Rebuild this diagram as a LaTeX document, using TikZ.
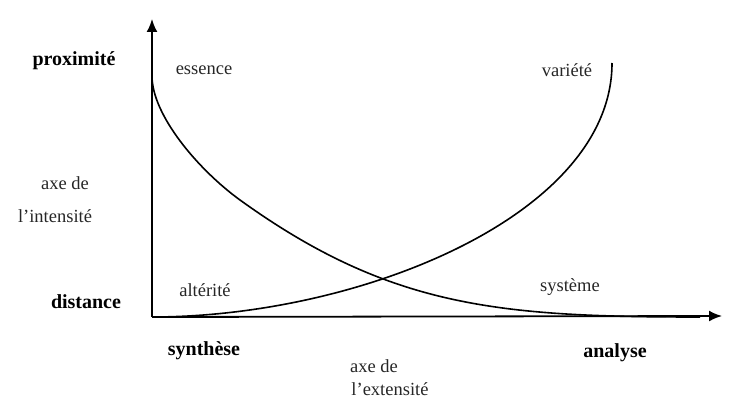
\documentclass[tikz,border=0pt]{standalone}
\usepackage{fontspec}
\setmainfont{Liberation Serif}
\usetikzlibrary{arrows.meta}

\begin{document}
\begin{tikzpicture}[x=1pt, y=-1pt,
    every node/.style={inner sep=0pt, font=\fontsize{18.5}{22}\selectfont, text=black!85},
    pole/.style={font=\fontsize{20}{22}\selectfont\bfseries, text=black},
    axis/.style={line width=1.8pt, -{Latex[length=13pt, width=11pt]}},
    curve/.style={line width=1.6pt}]
    \useasboundingbox (0,0) rectangle (744,401);
    % axes
    \coordinate (O) at (152,317);
    \coordinate (ytop) at (152,19);
    \coordinate (xend) at (722,316);
    \draw[axis] (O) -- (ytop);
    \draw[axis] (O) -- (xend);
    % essence -> systeme
    \coordinate (ess0) at (152,76);
    \coordinate (ess1) at (240,200);
    \coordinate (sys0) at (700,317);
    \draw[curve] (ess0) .. controls (152,115) and (198,169.5) .. (ess1)
        .. controls (390,308) and (500,317) .. (sys0);
    % alterite -> variete
    \coordinate (var0) at (612,63);
    \draw[curve] (O) .. controls (360,317) and (612,215) .. (var0);
    % labels
    \node[pole] (prox) at (74,61) {proximité};
    \node[pole] (dist) at (86,302) {distance};
    \node[pole] (synth) at (204,351) {synthèse};
    \node[pole] (anal) at (615,353) {analyse};
    \node (ess) at (204,70) {essence};
    \node (var) at (567,70) {variété};
    \node (alt) at (205,290) {altérité};
    \node (sys) at (570,287) {système};
    \node (intA) at (65,183) {axe de};
    \node (intB) at (55,216) {l’intensité};
    \node (extA) at (374,366) {axe de};
    \node (extB) at (390,389) {l’extensité};
\end{tikzpicture}
\end{document}
